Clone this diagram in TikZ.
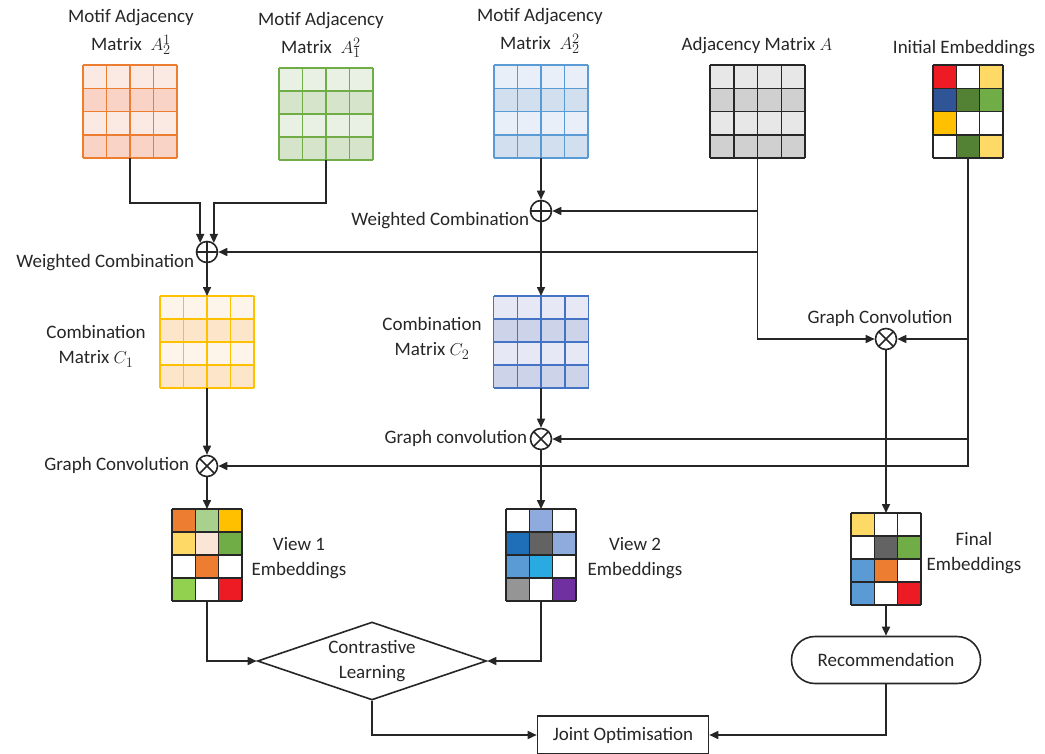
\documentclass[tikz,border=0pt]{standalone}
\usepackage{fontspec}
\setmainfont{Carlito}
\usetikzlibrary{arrows.meta,calc,shapes.geometric,shapes.misc}

\definecolor{ink}{HTML}{262626}
% matrix borders and alternating row fills
\definecolor{orB}{HTML}{ED7D31}\definecolor{orL}{HTML}{FBE9E3}\definecolor{orD}{HTML}{F8D3C6}
\definecolor{grB}{HTML}{70AD47}\definecolor{grL}{HTML}{E9F1E4}\definecolor{grD}{HTML}{D6E4CC}
\definecolor{blB}{HTML}{5B9BD5}\definecolor{blL}{HTML}{E8EFF8}\definecolor{blD}{HTML}{D1DFEF}
\definecolor{gyB}{HTML}{262626}\definecolor{gyL}{HTML}{E7E7E8}\definecolor{gyD}{HTML}{D0D0D1}
\definecolor{yeB}{HTML}{FFC000}\definecolor{yeL}{HTML}{FDF5E9}\definecolor{yeD}{HTML}{FCE5C9}
\definecolor{vbB}{HTML}{4472C4}\definecolor{vbL}{HTML}{E6E9F5}\definecolor{vbD}{HTML}{CDD3E9}
% embedding cell colours
\definecolor{eRed}{HTML}{ED1C24}\definecolor{eYel}{HTML}{FFD966}\definecolor{eNavy}{HTML}{2F5597}
\definecolor{eDG}{HTML}{548235}\definecolor{eG}{HTML}{70AD47}\definecolor{eGold}{HTML}{FFC000}
\definecolor{eOr}{HTML}{ED7D31}\definecolor{eLG}{HTML}{A9D18E}\definecolor{ePeach}{HTML}{FBE5D6}
\definecolor{eLime}{HTML}{92D050}\definecolor{eSky}{HTML}{8FAADC}\definecolor{eBlue}{HTML}{1E6EB8}
\definecolor{eDGray}{HTML}{636363}\definecolor{eMB}{HTML}{5B9BD5}\definecolor{eCyan}{HTML}{29ABE2}
\definecolor{eGray}{HTML}{959595}\definecolor{ePurple}{HTML}{7030A0}

% #1 node, #2 line colour, #3 columns, #4 rows, #5 cell width, #6 cell height, #7 fills (row-major)
\newcommand\cellgrid[7]{%
  \foreach \c [count=\i from 0] in {#7} {%
    \pgfmathtruncatemacro\gx{mod(\i,#3)}%
    \pgfmathtruncatemacro\gy{div(\i,#3)}%
    \fill[\c] ($(#1.north west)+(\gx*#5,\gy*#6)$) rectangle ++(#5,#6);
  }%
  \foreach \k in {0,...,#3}
    \draw[#2,line width=1.5pt] ($(#1.north west)+(\k*#5,0)$) -- ++(0,#4*#6);
  \foreach \k in {0,...,#4}
    \draw[#2,line width=1.5pt] ($(#1.north west)+(0,\k*#6)$) -- ++(#3*#5,0);
}

\begin{document}
\begin{tikzpicture}[x=1pt,y=-1pt,
  font=\fontsize{19}{25.5}\selectfont,
  line width=1.6pt, draw=ink,
  gridbox/.style={inner sep=0pt,outer sep=0pt,draw=none},
  lbl/.style={align=center,text=ink,inner sep=0pt},
  toplbl/.style={lbl,font=\fontsize{19}{28}\selectfont},
  arr/.style={draw=ink,-{Triangle[length=9pt,width=8pt]}},
  oplusnode/.style={circle,draw=ink,fill=white,minimum size=21pt,inner sep=0pt,
    path picture={\draw[ink,line width=1.5pt]
      (path picture bounding box.north) -- (path picture bounding box.south)
      (path picture bounding box.west) -- (path picture bounding box.east);}},
  otimesnode/.style={circle,draw=ink,fill=white,minimum size=21pt,inner sep=0pt,
    path picture={\draw[ink,line width=1.5pt]
      (path picture bounding box.north west) -- (path picture bounding box.south east)
      (path picture bounding box.north east) -- (path picture bounding box.south west);}},
  procbox/.style={draw=ink,fill=white,text=ink,inner sep=0pt}
]
\useasboundingbox (0,0) rectangle (1045,753);

% ---------- input matrices ----------
\node[gridbox,minimum width=94pt,minimum height=93pt] (mA21) at (130,111.5) {};
\node[gridbox,minimum width=94pt,minimum height=92pt] (mA12) at (326,114) {};
\node[gridbox,minimum width=94pt,minimum height=93pt] (mA22) at (541,111.5) {};
\node[gridbox,minimum width=95pt,minimum height=93pt] (mA)   at (757.5,111.5) {};
\node[gridbox,minimum width=70pt,minimum height=93pt] (mInit) at (968,111.5) {};

\cellgrid{mA21}{orB}{4}{4}{23.5}{23.25}{orL,orL,orL,orL,orD,orD,orD,orD,orL,orL,orL,orL,orD,orD,orD,orD}
\cellgrid{mA12}{grB}{4}{4}{23.5}{23}{grL,grL,grL,grL,grD,grD,grD,grD,grL,grL,grL,grL,grD,grD,grD,grD}
\cellgrid{mA22}{blB}{4}{4}{23.5}{23.25}{blL,blL,blL,blL,blD,blD,blD,blD,blL,blL,blL,blL,blD,blD,blD,blD}
\cellgrid{mA}{gyB}{4}{4}{23.75}{23.25}{gyL,gyL,gyL,gyL,gyD,gyD,gyD,gyD,gyL,gyL,gyL,gyL,gyD,gyD,gyD,gyD}
\cellgrid{mInit}{ink}{3}{4}{23.333}{23.25}{eRed,white,eYel,eNavy,eDG,eG,eGold,white,white,white,eDG,eYel}

\node[toplbl] (tA21) at (131,32) {Motif Adjacency\\Matrix \ $A_2^1$};
\node[toplbl] (tA12) at (321,35) {Motif Adjacency\\Matrix \ $A_1^2$};
\node[toplbl] (tA22) at (540,31) {Motif Adjacency\\Matrix \ $A_2^2$};
\node[lbl] (tA)   at (757,46) {Adjacency Matrix $A$};
\node[lbl] (tInit) at (964,49) {Initial Embeddings};

% ---------- operators ----------
\node[oplusnode] (p1) at (207,252) {};
\node[oplusnode] (p2) at (541,211) {};
\node[otimesnode] (gc) at (886,339) {};
\node[otimesnode] (t3) at (541,439) {};
\node[otimesnode] (t4) at (207,466) {};

\node[lbl,anchor=east] (lp1) at (195,263) {Weighted Combination};
\node[lbl,anchor=east] (lp2) at (530,221) {Weighted Combination};
\node[lbl] (lgc) at (880,318) {Graph Convolution};
\node[lbl,anchor=east] (lt3) at (528,438) {Graph convolution};
\node[lbl,anchor=east] (lt4) at (190,465) {Graph Convolution};

% ---------- combination matrices ----------
\node[gridbox,minimum width=94pt,minimum height=92pt] (mC1) at (207,342) {};
\node[gridbox,minimum width=95pt,minimum height=92pt] (mC2) at (541,342) {};
\cellgrid{mC1}{yeB}{4}{4}{23.5}{23}{yeL,yeL,yeL,yeL,yeD,yeD,yeD,yeD,yeL,yeL,yeL,yeL,yeD,yeD,yeD,yeD}
\cellgrid{mC2}{vbB}{4}{4}{23.75}{23}{vbL,vbL,vbL,vbL,vbD,vbD,vbD,vbD,vbL,vbL,vbL,vbL,vbD,vbD,vbD,vbD}
\node[lbl] (tC1) at (96,346) {Combination\\Matrix $C_1$};
\node[lbl] (tC2) at (432,338) {Combination\\Matrix $C_2$};

% ---------- embeddings ----------
\node[gridbox,minimum width=70pt,minimum height=92pt] (mV1) at (207,555) {};
\node[gridbox,minimum width=70pt,minimum height=92pt] (mV2) at (541,555) {};
\node[gridbox,minimum width=70pt,minimum height=92pt] (mFin) at (886,559) {};
\cellgrid{mV1}{ink}{3}{4}{23.333}{23}{eOr,eLG,eGold,eYel,ePeach,eG,white,eOr,white,eLime,white,eRed}
\cellgrid{mV2}{ink}{3}{4}{23.333}{23}{white,eSky,white,eBlue,eDGray,eSky,eMB,eCyan,white,eGray,white,ePurple}
\cellgrid{mFin}{ink}{3}{4}{23.333}{23}{eYel,white,white,white,eDGray,eG,eMB,eOr,white,eMB,white,eRed}
\node[lbl] (tV1) at (299,558) {View 1\\Embeddings};
\node[lbl] (tV2) at (635,558) {View 2\\Embeddings};
\node[lbl] (tFin) at (974,553) {Final\\Embeddings};

% ---------- processing blocks ----------
\node[procbox,diamond,aspect=2.95,minimum width=229pt,minimum height=78pt,align=center] (cl) at (372,661) {Contrastive\\Learning};
\node[procbox,rectangle,rounded corners=23.5pt,minimum width=189pt,minimum height=47pt] (rec) at (886,660) {Recommendation};
\node[procbox,rectangle,minimum width=171pt,minimum height=38pt] (jo) at (623,735) {Joint Optimisation};

% ---------- connectors ----------
% motif matrices into the first weighted combination
\draw[arr] (mA21.south) -- (mA21.south |- 0,203) -| (p1.127);
\draw[arr] (mA12.south) -- (mA12.south |- 0,203) -| (p1.53);
% adjacency matrix feeds
\draw[arr] (mA.south) |- (gc.west);
\draw[arr] (mA.south |- p2) -- (p2.east);
\draw[arr] (mA.south |- p1) -- (p1.east);
% initial embeddings feeds
\draw[arr] (mInit.south) |- (t4.east);
\draw[arr] (mInit.south |- gc) -- (gc.east);
\draw[arr] (mInit.south |- t3) -- (t3.east);
% left branch
\draw[arr] (p1.south) -- (mC1.north);
\draw[arr] (mC1.south) -- (t4.north);
\draw[arr] (t4.south) -- (mV1.north);
% middle branch
\draw[arr] (mA22.south) -- (p2.north);
\draw[arr] (p2.south) -- (mC2.north);
\draw[arr] (mC2.south) -- (t3.north);
\draw[arr] (t3.south) -- (mV2.north);
% right branch
\draw[arr] (gc.south) -- (mFin.north);
\draw[arr] (mFin.south) -- (rec.north);
% objectives
\draw[arr] (mV1.south) |- (cl.west);
\draw[arr] (mV2.south) |- (cl.east);
\draw[arr] (cl.south) |- (jo.west);
\draw[arr] (rec.south) |- (jo.east);
\end{tikzpicture}
\end{document}
